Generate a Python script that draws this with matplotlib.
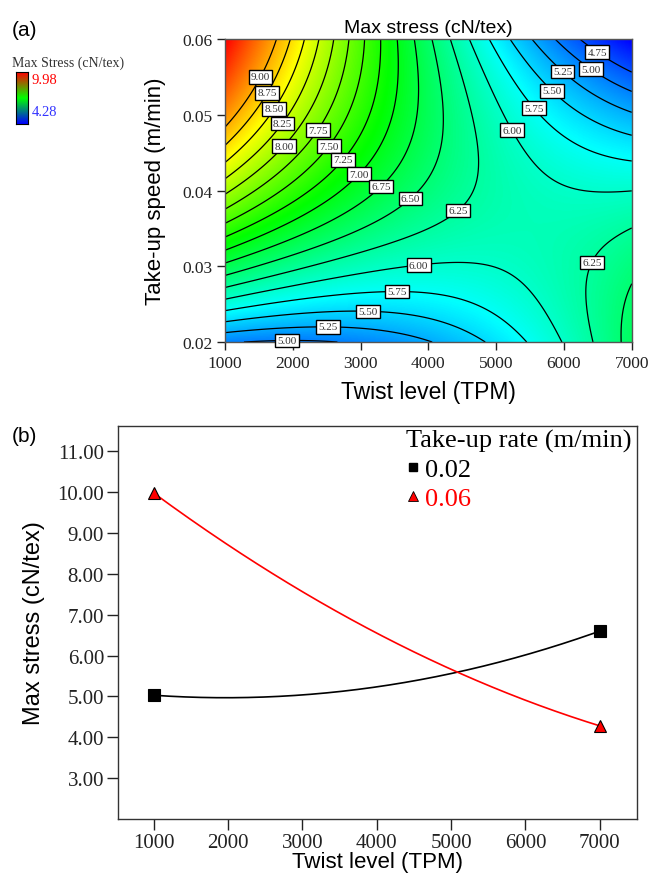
import numpy as np
import matplotlib
matplotlib.use("Agg")
import matplotlib.pyplot as plt
from matplotlib.colors import LinearSegmentedColormap
from matplotlib.lines import Line2D

# quadratic response surface in coded units (A = twist, B = take-up speed)
coef_b0 = 6.45
coef_a = -1.0325
coef_b = 0.6575
coef_ab = -1.8175
coef_aa = 0.58
coef_bb = -0.5575

twist_ticks = [1000, 2000, 3000, 4000, 5000, 6000, 7000]
speed_ticks = [0.02, 0.03, 0.04, 0.05, 0.06]
stress_ticks = [3.0, 4.0, 5.0, 6.0, 7.0, 8.0, 9.0, 10.0, 11.0]
stress_min, stress_max = 4.28, 9.98
contour_levels = [4.75, 5.00, 5.25, 5.50, 5.75, 6.00, 6.25, 6.50, 6.75,
                  7.00, 7.25, 7.50, 7.75, 8.00, 8.25, 8.50, 8.75, 9.00]

# where the contour labels sit (level, twist, speed)
label_level = [9.00, 8.75, 8.50, 8.25, 8.00, 7.75, 7.50, 7.25, 7.00, 6.75,
               6.50, 6.25, 6.25, 6.00, 6.00, 5.75, 5.75, 5.50, 5.50, 5.25,
               5.25, 5.00, 5.00, 4.75]
label_twist = [1221, 1295, 1398, 1545, 1663, 2400, 2563, 2799, 3034, 3418,
               3860, 4671, 6115, 3875, 5452, 3536, 5732, 3108, 5953, 2519,
               6071, 1914, 6484, 6558]
label_speed = [0.0558, 0.0538, 0.0519, 0.0500, 0.0468, 0.0479, 0.0457,
               0.0438, 0.0419, 0.0399, 0.0382, 0.0360, 0.0312, 0.0296,
               0.0486, 0.0266, 0.0516, 0.0244, 0.0538, 0.0224, 0.0563,
               0.0208, 0.0567, 0.0587]

legend_speeds = [0.02, 0.06]
legend_labels = ['0.02', '0.06']


def max_stress(twist, speed):
    a = (np.asarray(twist) - 4000.0) / 3000.0
    b = (np.asarray(speed) - 0.04) / 0.02
    return (coef_b0 + coef_a * a + coef_b * b + coef_ab * a * b
            + coef_aa * a ** 2 + coef_bb * b ** 2)


plt.rcParams['font.family'] = ['Liberation Serif', 'DejaVu Serif']
SANS = ['Liberation Sans', 'DejaVu Sans']

surface_cmap = LinearSegmentedColormap.from_list(
    'de', ['#0000ff', '#00ffff', '#00ff00', '#ffff00', '#ff0000'])
legend_cmap = LinearSegmentedColormap.from_list(
    'de_leg', ['#0000ff', '#00ff00', '#ff0000'])

fig = plt.figure(figsize=(6.5, 8.78), dpi=100)

# ---------------- (a) contour plot ----------------
ax1 = fig.add_axes([0.346, 0.6093, 0.626, 0.3451])
tw = np.linspace(1000, 7000, 400)
sp = np.linspace(0.02, 0.06, 400)
T, S = np.meshgrid(tw, sp)
Z = max_stress(T, S)

ax1.imshow(Z, extent=[1000, 7000, 0.02, 0.06], origin='lower', aspect='auto',
           cmap=surface_cmap, vmin=stress_min, vmax=stress_max,
           interpolation='bilinear')
cs = ax1.contour(T, S, Z, levels=contour_levels, colors='black',
                 linewidths=0.9)

# label boxes snapped to the nearest point of their own contour line
paths = cs.get_paths()
for lvl, x, y in zip(label_level, label_twist, label_speed):
    i = int(np.argmin(np.abs(np.asarray(cs.levels) - lvl)))
    v = paths[i].vertices
    if len(v) == 0:
        continue
    d = ((v[:, 0] - x) / 6000) ** 2 + ((v[:, 1] - y) / 0.04) ** 2
    px, py = v[np.argmin(d)]
    ax1.text(px, py, f'{lvl:.2f}', fontsize=8, color='#333333',
             ha='center', va='center', zorder=5,
             bbox=dict(boxstyle='square,pad=0.2', facecolor='white',
                       edgecolor='black', linewidth=1.0))

ax1.set_xlim(1000, 7000)
ax1.set_ylim(0.02, 0.06)
ax1.set_xticks(twist_ticks)
ax1.set_yticks(speed_ticks)
ax1.set_yticklabels([f'{v:.2f}' for v in speed_ticks])
ax1.tick_params(direction='out', length=6, width=1, labelsize=12.5,
                colors='#222222', pad=3)
for s in ax1.spines.values():
    s.set_color('#555555')
    s.set_linewidth(1.0)
ax1.set_title('Max stress (cN/tex)', fontfamily=SANS, fontsize=14, pad=5)
ax1.set_xlabel('Twist level (TPM)', fontfamily=SANS, fontsize=16.5)
ax1.set_ylabel('Take-up speed (m/min)', fontfamily=SANS, fontsize=16)
ax1.xaxis.set_label_coords(0.5, -0.125)
ax1.yaxis.set_label_coords(-0.145, 0.5)

# small legend bar
cax = fig.add_axes([0.0246, 0.858, 0.0185, 0.059])
cax.imshow(np.linspace(0, 1, 100)[:, None], aspect='auto', origin='lower',
           cmap=legend_cmap)
cax.set_xticks([])
cax.set_yticks([])
for s in cax.spines.values():
    s.set_linewidth(0.8)
fig.text(0.018, 1 - 63 / 878, 'Max Stress (cN/tex)', fontsize=10, va='center',
         color='#333333')
fig.text(0.049, 1 - 80 / 878, f'{stress_max:.2f}', fontsize=10.5, va='center',
         color='red')
fig.text(0.049, 1 - 113 / 878, f'{stress_min:.2f}', fontsize=10.5, va='center',
         color='#3333ff')
fig.text(0.018, 1 - 30 / 878, '(a)', fontfamily=SANS, fontsize=15,
         va='center')

# ---------------- (b) interaction plot ----------------
ax2 = fig.add_axes([0.1815, 0.066, 0.7985, 0.4477])
tw_line = np.linspace(1000, 7000, 200)
line_colors = ['black', 'red']
markers = ['s', '^']
for spd, col, mk in zip(legend_speeds, line_colors, markers):
    ax2.plot(tw_line, max_stress(tw_line, spd), color=col, linewidth=1.2)
    ends = np.array([twist_ticks[0], twist_ticks[-1]])
    ax2.plot(ends, max_stress(ends, spd), linestyle='none', marker=mk,
             markersize=8.5, markerfacecolor=col,
             markeredgecolor='black', markeredgewidth=0.8)

ax2.set_xlim(520, 7500)
ax2.set_ylim(2.0, 11.62)
ax2.set_xticks(twist_ticks)
ax2.set_yticks(stress_ticks)
ax2.set_yticklabels([f'{v:.2f}' for v in stress_ticks])
ax2.tick_params(direction='out', length=8, width=1, labelsize=15,
                colors='#222222', pad=2)
for s in ax2.spines.values():
    s.set_color('#333333')
    s.set_linewidth(1.0)
ax2.set_xlabel('Twist level (TPM)', fontfamily=SANS, fontsize=16)
ax2.set_ylabel('Max stress (cN/tex)', fontfamily=SANS, fontsize=17)
ax2.xaxis.set_label_coords(0.5, -0.081)
ax2.yaxis.set_label_coords(-0.14, 0.5)

handles = [
    Line2D([], [], linestyle='none', marker='s', markersize=5.5,
           markerfacecolor='black', markeredgecolor='black', label=legend_labels[0]),
    Line2D([], [], linestyle='none', marker='^', markersize=6.5,
           markerfacecolor='red', markeredgecolor='black',
           markeredgewidth=0.6, label=legend_labels[1]),
]
leg = ax2.legend(handles=handles, title='Take-up rate (m/min)', loc='upper right',
                 bbox_to_anchor=(1.0, 1.005),
                 frameon=False, fontsize=19, title_fontsize=19,
                 handlelength=0.5, handletextpad=0.2, labelspacing=0.2,
                 alignment='left', borderaxespad=0.1, borderpad=0.1)
leg.get_texts()[1].set_color('red')
fig.text(0.018, 1 - 437 / 878, '(b)', fontfamily=SANS, fontsize=15,
         va='center')

fig.savefig('out.png', dpi=100)
